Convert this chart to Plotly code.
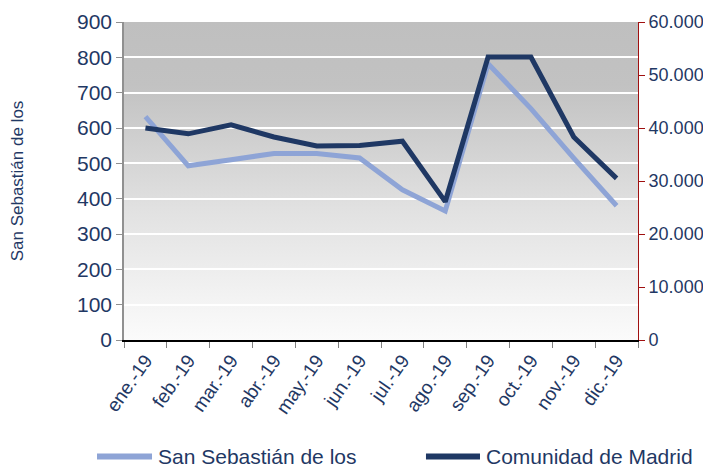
import base64

import plotly.graph_objects as go

months = ["ene.-19", "feb.-19", "mar.-19", "abr.-19", "may.-19", "jun.-19",
          "jul.-19", "ago.-19", "sep.-19", "oct.-19", "nov.-19", "dic.-19"]
san_sebastian = [632, 493, 510, 528, 528, 515, 425, 365, 782, 655, 515, 380]
madrid = [40000, 38900, 40600, 38300, 36600, 36700, 37500, 26100, 53400, 53400, 38300, 30500]
series_names = ["San Sebastián de los", "Comunidad de Madrid"]

_NAVY, _LIGHT, _RED = "#1f3864", "#8ea4d6", "#a01010"
_FONT = "Liberation Sans, Arial, sans-serif"

# gray-to-white vertical gradient behind the plot area, as an inline SVG image
_svg = (
    "<svg xmlns='http://www.w3.org/2000/svg' width='100' height='100' preserveAspectRatio='none'>"
    "<defs><linearGradient id='g' x1='0' y1='0' x2='0' y2='1'>"
    "<stop offset='0' stop-color='#bfbfbf'/><stop offset='0.2' stop-color='#c2c2c2'/>"
    "<stop offset='0.6' stop-color='#e2e2e2'/><stop offset='1' stop-color='#fbfbfb'/>"
    "</linearGradient></defs><rect width='100' height='100' fill='url(#g)'/></svg>"
)
_bg = "data:image/svg+xml;base64," + base64.b64encode(_svg.encode()).decode()

fig = go.Figure()
fig.add_scatter(x=months, y=san_sebastian, name=series_names[0], mode="lines",
                line=dict(color=_LIGHT, width=5))
fig.add_scatter(x=months, y=madrid, name=series_names[1], mode="lines", yaxis="y2",
                line=dict(color=_NAVY, width=5))

fig.add_layout_image(source=_bg, xref="x domain", yref="y domain", x=0, y=1, sizex=1, sizey=1,
                     xanchor="left", yanchor="top", sizing="stretch", layer="below")

# hand-made legend: long line swatches like the original
legend_y = -0.366
for (x0, x1, tx), name, color in zip([(-0.0525, 0.0545, 0.064), (0.5875, 0.6926, 0.702)],
                                     series_names, [_LIGHT, _NAVY]):
    fig.add_shape(type="line", xref="paper", yref="paper", x0=x0, x1=x1, y0=legend_y, y1=legend_y,
                  line=dict(color=color, width=6))
    fig.add_annotation(text=name, xref="paper", yref="paper", x=tx, y=legend_y, xanchor="left",
                       yanchor="middle", showarrow=False, borderpad=0,
                       font=dict(size=21, color=_NAVY))

# margins are shifted by the page's 8px body margin
fig.update_layout(
    width=711, height=468,
    margin=dict(l=116, r=81, t=14, b=136),
    paper_bgcolor="white", plot_bgcolor="rgba(0,0,0,0)",
    font=dict(family=_FONT, color=_NAVY),
    separators=",.",
    showlegend=False,
    xaxis=dict(tickangle=-55, tickfont=dict(size=19, color=_NAVY), showgrid=False,
               range=[-0.5, 11.5], automargin=False,
               showline=True, linecolor="black", linewidth=1.5, ticks="outside",
               tickson="boundaries", tickcolor="#808080", ticklen=6),
    yaxis=dict(range=[0, 900], dtick=100, tickfont=dict(size=21, color=_NAVY),
               showgrid=True, gridcolor="white", gridwidth=1.5, zeroline=False, automargin=False,
               showline=True, linecolor="#909090", linewidth=1.5, ticks="outside",
               tickcolor="#909090", ticklen=6,
               title=dict(text="San Sebastián de los", font=dict(size=17, color=_NAVY), standoff=54)),
    yaxis2=dict(range=[0, 60000], dtick=10000, tickformat=",d", overlaying="y", side="right",
                tickfont=dict(size=18, color=_NAVY), showgrid=False, zeroline=False, automargin=False,
                showline=True, linecolor=_RED, linewidth=1, ticks="outside",
                tickcolor=_RED, ticklen=6),
)

fig.write_html("out.html")
